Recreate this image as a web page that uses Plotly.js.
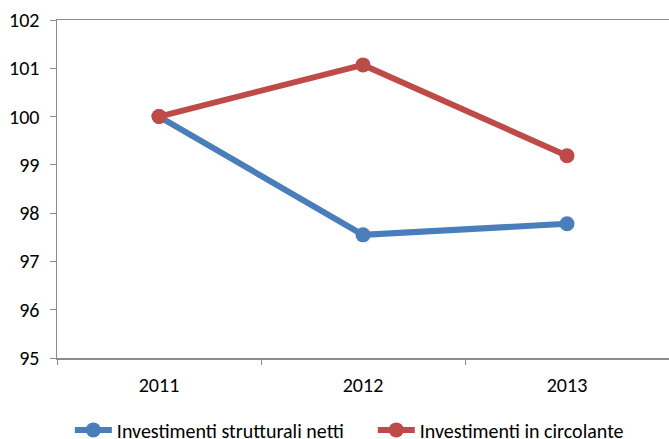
<!DOCTYPE html>
<html><head><meta charset="utf-8">
<script src="https://cdn.plot.ly/plotly-3.0.1.min.js"></script>
<style>html,body{margin:0;padding:0;background:#fff}</style>
</head><body>
<div id="chart" style="width:669px;height:439px"></div>
<script>
const years = ["2011", "2012", "2013"];
const strutturali = [100, 97.55, 97.78];
const circolante = [100, 101.07, 99.19];
const names = ["Investimenti strutturali netti", "Investimenti in circolante"];
const colors = ["#4a7ebb", "#be4b48"];
const yTicks = [95, 96, 97, 98, 99, 100, 101, 102];

const font = "Carlito, Calibri, Lato, sans-serif";
const legendIds = ["legend", "legend2"];
const traces = [strutturali, circolante].map((v, i) => ({
  x: years, y: v, name: names[i], type: "scatter", mode: "lines+markers",
  legend: legendIds[i],
  line: {color: colors[i], width: 6}, marker: {color: colors[i], size: 15}
}));
const legendBase = {orientation: "h", xanchor: "left", y: -0.155, yanchor: "top",
  itemwidth: 37, font: {family: font, size: 20, color: "#000"}, bgcolor: "rgba(0,0,0,0)"};
const layout = {
  width: 669, height: 439,
  margin: {l: 57, r: 0, t: 20, b: 81, autoexpand: false},
  paper_bgcolor: "#fff", plot_bgcolor: "#fff",
  font: {family: font, size: 20, color: "#000"},
  showlegend: true,
  legend: Object.assign({}, legendBase, {x: 0.021}),
  legend2: Object.assign({}, legendBase, {x: 0.516}),
  xaxis: {type: "category", range: [-0.5, 2.5], showgrid: false, zeroline: false,
    showline: true, linecolor: "#8c8c8c", linewidth: 1.5, mirror: true,
    ticks: "outside", tickson: "boundaries", ticklen: 5, tickcolor: "#8c8c8c",
    ticklabelstandoff: 8, fixedrange: true},
  yaxis: {range: [95, 102], tickvals: yTicks, ticktext: yTicks.map(String),
    showgrid: false, zeroline: false, showline: true, linecolor: "#8c8c8c", linewidth: 1.5,
    ticks: "outside", ticklen: 6, tickcolor: "#8c8c8c", ticklabelstandoff: 6, fixedrange: true}
};
Plotly.newPlot("chart", traces, layout, {displayModeBar: false, staticPlot: true});
</script>
</body></html>
